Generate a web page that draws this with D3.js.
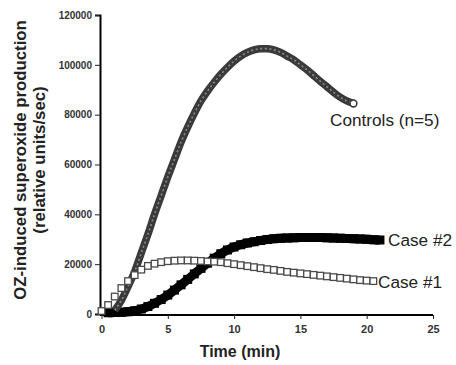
<!DOCTYPE html>
<html>
<head>
<meta charset="utf-8">
<script src="https://cdn.jsdelivr.net/npm/d3@7"></script>
<style>
  body { margin: 0; background: #fff; }
  svg { display: block; font-family: "Liberation Sans", Arial, sans-serif; }
</style>
</head>
<body>
<svg id="chart" width="456" height="365"></svg>
<script>
// values
const controlsT = [1, 1.5, 2, 2.5, 3, 3.5, 4, 4.5, 5, 5.5, 6, 6.5, 7, 7.5, 8, 8.5, 9, 9.5, 10,
  10.5, 11, 11.5, 12, 12.5, 13, 13.5, 14, 14.5, 15, 15.5, 16, 16.5, 17, 17.5, 18, 18.5, 19]
const controlsV = [1500, 5500, 11000, 17000, 24500, 32000, 40000, 47500, 55000, 62000, 69000,
  75000, 80500, 85500, 89500, 93000, 96200, 99000, 101500, 103500, 105000, 106000, 106500,
  106500, 106000, 105000, 103500, 102000, 100000, 98000, 95700, 93400, 91200, 89000, 87000,
  85500, 84500]

const case1T = [0, 0.5, 1, 1.5, 2, 2.5, 3, 3.5, 4, 4.5, 5, 5.5, 6, 6.5, 7, 7.5, 8, 8.5, 9, 9.5,
  10, 10.5, 11, 11.5, 12, 12.5, 13, 13.5, 14, 14.5, 15, 15.5, 16, 16.5, 17, 17.5, 18, 18.5, 19,
  19.5, 20, 20.5]
const case1V = [1200, 3600, 7000, 10400, 13200, 15600, 17800, 19300, 20200, 20800, 21200, 21400,
  21500, 21500, 21400, 21300, 21100, 21000, 20800, 20400, 20000, 19600, 19200, 18800, 18400,
  18000, 17700, 17300, 16900, 16600, 16300, 16000, 15700, 15400, 15100, 14800, 14500, 14200,
  13900, 13600, 13400, 13200]

const case2T = [0.5, 1, 1.5, 2, 2.5, 3, 3.5, 4, 4.5, 5, 5.5, 6, 6.5, 7, 7.5, 8, 8.5, 9, 9.5, 10,
  10.5, 11, 11.5, 12, 12.5, 13, 13.5, 14, 14.5, 15, 15.5, 16, 16.5, 17, 17.5, 18, 18.5, 19, 19.5,
  20, 20.5, 21]
const case2V = [500, 600, 700, 900, 1300, 2000, 3000, 4300, 5800, 7600, 9600, 11700, 13900, 16100,
  18300, 20400, 22400, 24200, 25700, 26900, 27800, 28500, 29000, 29500, 29900, 30200, 30400,
  30500, 30600, 30700, 30700, 30700, 30700, 30600, 30500, 30400, 30300, 30200, 30100, 30000,
  29800, 29700]

const xTicks = [0, 5, 10, 15, 20, 25]
const yTicks = [0, 20000, 40000, 60000, 80000, 100000, 120000]

const zip = (ts, vs) => ts.map((t, i) => ({ t, v: vs[i] }))
const controls = zip(controlsT, controlsV)
const case1 = zip(case1T, case1V)
const case2 = zip(case2T, case2V)

const svg = d3.select('#chart')
const x = d3.scaleLinear().domain([0, 25]).range([101.5, 433])
const y = d3.scaleLinear().domain([0, 120000]).range([314, 15])

// axes
const yAxis = svg.append('g')
  .attr('transform', 'translate(100,0)')
  .call(d3.axisLeft(y).tickValues(yTicks).tickFormat(d3.format('d')).tickSize(5).tickPadding(3))
yAxis.select('.domain').attr('stroke', '#000').attr('stroke-width', 2)
yAxis.selectAll('.tick line').attr('stroke', '#222')
yAxis.selectAll('text').attr('font-size', 10).attr('font-weight', 'bold').attr('fill', '#333')

const xAxis = svg.append('g')
  .attr('transform', 'translate(0,315)')
  .call(d3.axisBottom(x).tickValues(xTicks).tickSize(4).tickPadding(6))
xAxis.select('.domain').attr('stroke', '#000').attr('stroke-width', 2.2)
  .attr('d', `M${x(0) - 1.5},0H${x(25)}`)
xAxis.selectAll('.tick line').attr('stroke', '#222')
xAxis.selectAll('text').attr('font-size', 11).attr('font-weight', 'bold').attr('fill', '#333')

// titles
svg.append('text')
  .attr('x', 240).attr('y', 357)
  .attr('text-anchor', 'middle')
  .attr('font-size', 16).attr('font-weight', 'bold').attr('fill', '#222')
  .text('Time (min)')

const yTitle = svg.append('g').attr('transform', 'translate(0,160) rotate(-90)')
yTitle.append('text')
  .attr('x', 0).attr('y', 26)
  .attr('text-anchor', 'middle')
  .attr('font-size', 16.8).attr('font-weight', 'bold').attr('fill', '#222')
  .text('OZ-induced superoxide production')
yTitle.append('text')
  .attr('x', 0).attr('y', 45)
  .attr('text-anchor', 'middle')
  .attr('font-size', 16.8).attr('font-weight', 'bold').attr('fill', '#222')
  .text('(relative units/sec)')

const line = d3.line().x(d => x(d.t)).y(d => y(d.v)).curve(d3.curveMonotoneX)

// Case #2 - filled black squares, packed into a band
svg.append('path').datum(case2)
  .attr('d', line).attr('fill', 'none')
  .attr('stroke', '#000').attr('stroke-width', 9)
svg.append('g').selectAll('rect')
  .data(case2)
  .join('rect')
  .attr('x', d => x(d.t) - 4.5).attr('y', d => y(d.v) - 4.5)
  .attr('width', 9).attr('height', 9)
  .attr('fill', '#000')

// Controls - dense open circles, drawn as a beaded band
svg.append('path').datum(controls)
  .attr('d', line).attr('fill', 'none')
  .attr('stroke', '#3a3a3a').attr('stroke-width', 7.5)
svg.append('path').datum(controls)
  .attr('d', line).attr('fill', 'none')
  .attr('stroke', '#8a8a8a').attr('stroke-width', 1.6)
  .attr('stroke-dasharray', '2 2.6')
const last = controls[controls.length - 1]
svg.append('circle')
  .attr('cx', x(last.t)).attr('cy', y(last.v)).attr('r', 3.4)
  .attr('fill', '#fff').attr('stroke', '#3a3a3a').attr('stroke-width', 1.6)

// Case #1 - open squares
svg.append('g').selectAll('rect')
  .data(case1)
  .join('rect')
  .attr('x', d => x(d.t) - 3.3).attr('y', d => y(d.v) - 3.3)
  .attr('width', 6.6).attr('height', 6.6)
  .attr('fill', '#fff').attr('stroke', '#4a4a4a').attr('stroke-width', 1.3)

// series labels
const labels = [
  { text: 'Controls (n=5)', lx: 330, ly: 126 },
  { text: 'Case #2', lx: 388, ly: 246 },
  { text: 'Case #1', lx: 378, ly: 288 }
]
svg.append('g').selectAll('text')
  .data(labels)
  .join('text')
  .attr('x', d => d.lx).attr('y', d => d.ly)
  .attr('font-size', 17.2).attr('fill', '#222')
  .text(d => d.text)
</script>
</body>
</html>
